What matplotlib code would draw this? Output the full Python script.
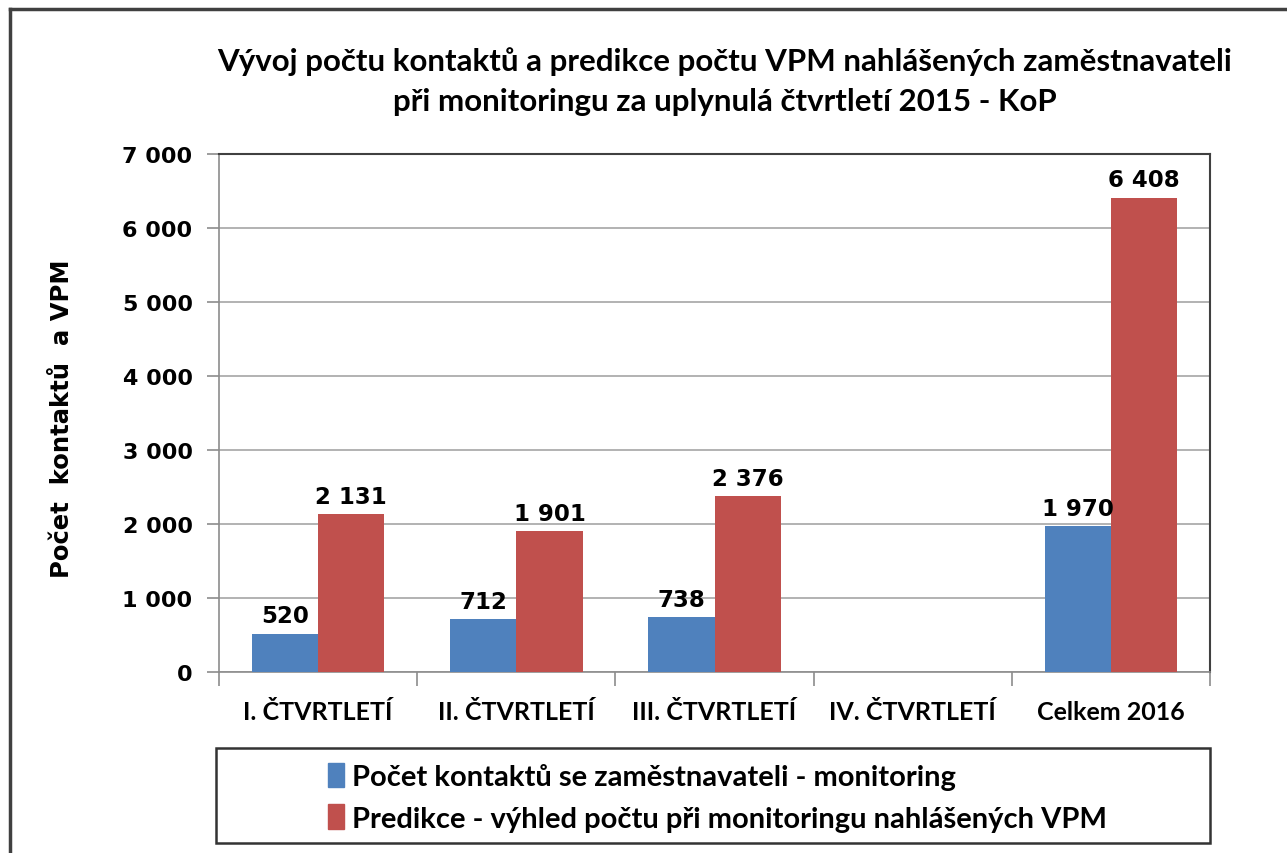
import numpy as np
import matplotlib
matplotlib.use("Agg")
import matplotlib.pyplot as plt
from matplotlib.patches import Rectangle, Patch
from matplotlib.lines import Line2D

# data
categories = ["I. ČTVRTLETÍ", "II. ČTVRTLETÍ", "III. ČTVRTLETÍ", "IV. ČTVRTLETÍ", "Celkem 2016"]
kontakty = [520, 712, 738, np.nan, 1970]
predikce = [2131, 1901, 2376, np.nan, 6408]
series_names = ["Počet kontaktů se zaměstnavateli - monitoring",
                "Predikce - výhled počtu při monitoringu nahlášených VPM"]
y_ticks = [0, 1000, 2000, 3000, 4000, 5000, 6000, 7000]

BLUE = "#4F81BD"
RED = "#C0504D"
NARROW = ["Lato", "DejaVu Sans"]
WIDE = ["DejaVu Sans"]

W, H = 1287, 854
fig = plt.figure(figsize=(W / 100, H / 100), dpi=100)
fig.patch.set_facecolor("white")

# plot area in pixel coords of the reference
left, right, top, bottom = 219, 1210, 155, 673
ax = fig.add_axes([left / W, 1 - bottom / H, (right - left) / W, (bottom - top) / H])

x = np.arange(len(categories))
bw = 0.335
ax.bar(x - bw / 2, kontakty, bw, color=BLUE, zorder=3)
ax.bar(x + bw / 2, predikce, bw, color=RED, zorder=3)

def fmt(v):
    return f"{v:,.0f}".replace(",", " ")

for xi, v in zip(x, kontakty):
    if not np.isnan(v):
        ax.text(xi - bw / 2, v + 90, fmt(v), ha="center", va="bottom",
                fontsize=16.5, fontweight="bold", family=WIDE, zorder=4)
for xi, v in zip(x, predikce):
    if not np.isnan(v):
        ax.text(xi + bw / 2, v + 90, fmt(v), ha="center", va="bottom",
                fontsize=16.5, fontweight="bold", family=WIDE, zorder=4)

ax.set_xlim(-0.5, len(categories) - 0.5)
ax.set_ylim(0, 7000)
ax.set_yticks(y_ticks)
ax.set_yticklabels([fmt(v) for v in y_ticks], fontsize=16, fontweight="bold", family=WIDE)
ax.yaxis.grid(True, color="#a6a6a6", linewidth=1.2, zorder=0)

ax.set_xticks(x)
ax.set_xticklabels(categories, fontsize=18, fontweight="bold", family=NARROW)
ax.set_xticks(np.arange(len(categories) + 1) - 0.5, minor=True)
ax.tick_params(axis="x", which="major", length=0, pad=20)
ax.tick_params(axis="x", which="minor", length=10, color="#8c8c8c", width=1.2)
ax.tick_params(axis="y", length=9, color="#8c8c8c", width=1.2, pad=10)

for side in ["left", "bottom"]:
    ax.spines[side].set_color("#8c8c8c")
    ax.spines[side].set_linewidth(1.2)
for side in ["top", "right"]:
    ax.spines[side].set_color("#404040")
    ax.spines[side].set_linewidth(1.5)

ax.set_ylabel("Počet  kontaktů  a VPM", fontsize=17.5, fontweight="bold", family=WIDE)
ax.yaxis.set_label_coords(-(219 - 74) / (right - left), 0.49)

# title
fig.text(725 / W, 1 - 62 / H, "Vývoj počtu kontaktů a predikce počtu VPM nahlášených zaměstnavateli",
         ha="center", va="center", fontsize=22.5, fontweight="bold", family=NARROW)
fig.text(725 / W, 1 - 102 / H, "při monitoringu za uplynulá čtvrtletí 2015 - KoP",
         ha="center", va="center", fontsize=22.5, fontweight="bold", family=NARROW)

# legend box
fig.patches.append(Rectangle((216 / W, 1 - 844 / H), (1210 - 216) / W, (844 - 749) / H,
                             transform=fig.transFigure, fill=False, edgecolor="#333333",
                             linewidth=1.8))
handles = [Patch(color=BLUE), Patch(color=RED)]
fig.legend(handles, series_names, loc="upper left", bbox_to_anchor=(316 / W, 1 - 752 / H),
           frameon=False, prop={"family": NARROW, "weight": "bold", "size": 21},
           handlelength=0.55, handleheight=0.9, handletextpad=0.3, labelspacing=0.5,
           borderaxespad=0)

# outer chart border (left and top edges visible)
fig.add_artist(Line2D([10 / W, 10 / W], [0, 1 - 10 / H], transform=fig.transFigure,
                      color="#404040", linewidth=2.5))
fig.add_artist(Line2D([10 / W, 1], [1 - 10 / H, 1 - 10 / H], transform=fig.transFigure,
                      color="#404040", linewidth=2.5))

fig.savefig("out.png", dpi=100)
